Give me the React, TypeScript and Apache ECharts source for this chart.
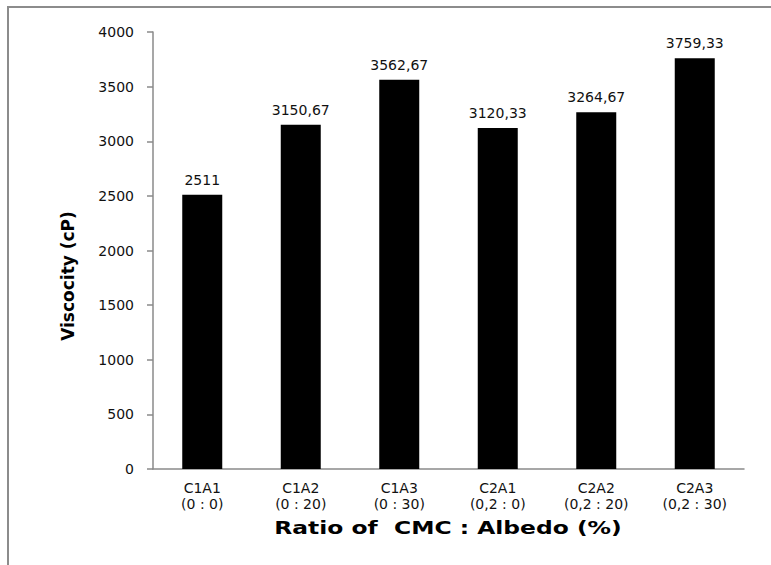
import * as echarts from 'echarts'
import { useEffect, useRef } from 'react'

const categories = ['C1A1', 'C1A2', 'C1A3', 'C2A1', 'C2A2', 'C2A3']
const ratios = ['(0 : 0)', '(0 : 20)', '(0 : 30)', '(0,2 : 0)', '(0,2 : 20)', '(0,2 : 30)']
const viscosity = [2511, 3150.67, 3562.67, 3120.33, 3264.67, 3759.33]

const FONT = 'DejaVu Sans, Verdana, sans-serif'
const AXIS_GREY = '#8a8a8a'

const App = () => {
  const containerRef = useRef<HTMLDivElement>(null)

  useEffect(() => {
    if (!containerRef.current) return
    const chart = echarts.init(containerRef.current, null, { renderer: 'svg' })

    chart.setOption({
      animation: false,
      backgroundColor: '#fff',
      grid: { left: 153, right: 27, top: 32, bottom: 96 },
      graphic: [
        {
          type: 'rect',
          shape: { x: 8, y: 7, width: 800, height: 600 },
          style: { fill: 'none', stroke: '#8c8c8c', lineWidth: 2 },
          silent: true
        },
        {
          // y axis title, bold, reads bottom to top
          type: 'text',
          x: 68,
          y: 276,
          rotation: Math.PI / 2,
          style: {
            text: 'Viscocity (cP)',
            font: `bold 17px ${FONT}`,
            fill: '#000',
            align: 'center',
            verticalAlign: 'middle'
          }
        },
        {
          // x axis title, the reference is stretched wide
          type: 'text',
          x: 448,
          y: 528,
          scaleX: 1.3,
          style: {
            text: 'Ratio of  CMC : Albedo (%)',
            font: `bold 18px ${FONT}`,
            fill: '#000',
            align: 'center',
            verticalAlign: 'middle'
          }
        }
      ],
      xAxis: {
        type: 'category',
        data: categories.map((c, i) => `${c}\n${ratios[i]}`),
        axisLine: { lineStyle: { color: AXIS_GREY, width: 1.5 } },
        axisTick: { length: 5, lineStyle: { color: AXIS_GREY, width: 1.5 } },
        axisLabel: { fontFamily: FONT, fontSize: 14, color: '#111', lineHeight: 16, margin: 11 }
      },
      yAxis: {
        type: 'value',
        min: 0,
        max: 4000,
        interval: 500,
        axisLine: { show: true, lineStyle: { color: AXIS_GREY, width: 1.5 } },
        axisTick: { show: true, length: 6, lineStyle: { color: AXIS_GREY, width: 1.5 } },
        splitLine: { show: false },
        axisLabel: {
          fontFamily: FONT,
          fontSize: 14,
          color: '#111',
          margin: 19,
          formatter: (v: number) => String(v)
        }
      },
      series: [
        {
          type: 'bar',
          data: viscosity,
          barWidth: 40,
          itemStyle: { color: '#000' },
          label: {
            show: true,
            position: 'top',
            distance: 8,
            fontFamily: FONT,
            fontSize: 14,
            color: '#111',
            formatter: (p: { value: number }) => String(p.value).replace('.', ',')
          }
        }
      ]
    })

    return () => {
      chart.dispose()
    }
  }, [])

  return (
    <div
      ref={containerRef}
      style={{ position: 'absolute', left: 0, top: 0, width: 771, height: 565 }}
    />
  )
}

export default App
